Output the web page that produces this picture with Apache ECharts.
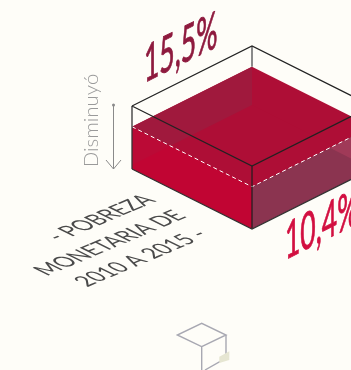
<!DOCTYPE html>
<html>
<head>
<meta charset="utf-8">
<style>
html,body{margin:0;padding:0;background:#fefdf8;}
#chart{width:351px;height:370px;}
</style>
<script src="https://cdn.jsdelivr.net/npm/echarts@6/dist/echarts.min.js"></script>
</head>
<body>
<div id="chart"></div>
<script>
// Poverty rate at the start and end of the period
const rateStart = 15.5;
const rateEnd = 10.4;
const years = [2010, 2015];
const trendWord = 'Disminuyó';
const captionLines = ['- POBREZA', 'MONETARIA DE', years[0] + ' A ' + years[1] + ' -'];

const asLabel = function (v) { return String(v).replace('.', ',') + '%'; };

const chart = echarts.init(document.getElementById('chart'));
const ISO = Math.atan(0.5);
const HALF_DEPTH = 60;
const FLOOR = 1;

function renderBox(params, api) {
  const top = api.value(0);
  const level = api.value(1);
  // u runs from the left corner to the back, v from the left corner to the front
  const pt = function (u, v, h) {
    const c = api.coord([u + v, h]);
    return [c[0], c[1] + (v - u) * HALF_DEPTH];
  };
  const poly = function (points, fill) {
    return { type: 'polygon', shape: { points: points }, style: { fill: fill }, silent: true };
  };
  const line = function (points, stroke, width, dash) {
    return {
      type: 'polyline', shape: { points: points }, silent: true,
      style: { fill: 'none', stroke: stroke, lineWidth: width, lineDash: dash || null }
    };
  };
  const wall = function (a, b, h0, h1, fill) {
    return poly([pt(a[0], a[1], h0), pt(b[0], b[1], h0), pt(b[0], b[1], h1), pt(a[0], a[1], h1)], fill);
  };
  const L = [0, 0], B = [1, 0], F = [0, 1], R = [1, 1];
  const levelPx = api.size([0, level])[1];
  const t = 1 - levelPx / (2 * HALF_DEPTH);

  const children = [
    wall(L, B, 0, level, '#ae0e36'),
    wall(L, F, 0, level, '#ae0e36'),
    wall(B, R, 0, level, '#ae0e36'),
    poly([pt(0, 0, FLOOR), pt(1, 0, FLOOR), pt(1, 1, FLOOR), pt(0, 1, FLOOR)], '#ae0e36'),
    wall(L, B, FLOOR, level, '#a0193d'),
    wall(L, F, 0, level, 'rgba(205,0,50,0.6)'),
    wall(F, R, 0, level, '#8b3450'),
    poly([pt(t, 1, level), pt(1, 1, level), pt(1, 1, 0)], '#a03a58'),
    line([pt(0, 0, level), pt(0, 1, level), pt(1, 1, level)], '#ffffff', 1, [4, 3]),
    line([pt(1, 0, top), pt(1, 0, level)], '#8a8a8a', 2),
    line([pt(0, 0, 0), pt(0, 0, top)], '#333333', 1.3),
    line([pt(0, 1, 0), pt(0, 1, top)], '#1e1e1e', 1.2),
    line([pt(0, 0, 0), pt(0, 1, 0), pt(1, 1, 0)], '#333333', 1.2),
    line([pt(0, 0, top), pt(1, 0, top), pt(1, 1, top), pt(0, 1, top), pt(0, 0, top)], '#222222', 1.2)
  ];
  return { type: 'group', children: children };
}

// Numbers stand upright on a rising baseline, the caption lies flat on the floor plane
const bigLabel = function (text, x, y, fill) {
  return {
    type: 'text', x: x, y: y, scaleX: 0.53, scaleY: 1.02, skewY: ISO, silent: true,
    style: { text: text, fill: fill, stroke: fill, lineWidth: 0.9, font: '400 50px Lato', align: 'left', verticalAlign: 'bottom' }
  };
};
const captionLine = function (text, x, y) {
  return {
    type: 'text', x: x, y: y, scaleX: 0.86, scaleY: 0.5, skewY: Math.atan(0.42), skewX: Math.atan(2), silent: true,
    style: { text: text, fill: '#4a4a4a', font: '400 22px Lato', align: 'center', verticalAlign: 'middle' }
  };
};

const option = {
  animation: false,
  backgroundColor: '#fefdf8',
  grid: { left: 132, top: 106, width: 219, height: 63 },
  xAxis: { type: 'value', min: 0, max: 1.825, show: false },
  yAxis: { type: 'value', min: 0, max: rateStart, show: false },
  series: [{
    type: 'custom',
    coordinateSystem: 'cartesian2d',
    clip: false,
    silent: true,
    data: [[rateStart, rateEnd]],
    renderItem: renderBox
  }],
  graphic: { elements: [
    bigLabel(asLabel(rateStart), 144, 92, '#8e1a3e'),
    bigLabel(asLabel(rateEnd), 285, 269, '#d20f40'),
    captionLine(captionLines[0], 101, 218),
    captionLine(captionLines[1], 110, 243),
    captionLine(captionLines[2], 141, 258),
    { type: 'text', x: 91, y: 120.5, rotation: Math.PI / 2, silent: true,
      style: { text: trendWord, fill: '#9a9a9a', font: '300 20.5px Lato', align: 'center', verticalAlign: 'middle' } },
    { type: 'polyline', silent: true, shape: { points: [[113.5, 105], [113.5, 169]] }, style: { fill: 'none', stroke: '#8a8a8a', lineWidth: 1 } },
    { type: 'polyline', silent: true, shape: { points: [[106, 160], [113.5, 169], [121, 160]] }, style: { fill: 'none', stroke: '#8a8a8a', lineWidth: 1 } },
    { type: 'circle', silent: true, shape: { cx: 113.5, cy: 105, r: 1.5 }, style: { fill: '#8a8a8a' } },
    { type: 'polyline', silent: true, shape: { points: [[201.7, 370], [201.7, 346.7], [177.3, 335], [201.7, 323.3], [226, 335], [201.7, 346.7]] }, style: { fill: 'none', stroke: '#a8a8b2', lineWidth: 1.4 } },
    { type: 'polyline', silent: true, shape: { points: [[226, 335], [226, 358], [205, 370]] }, style: { fill: 'none', stroke: '#a8a8b2', lineWidth: 1.4 } },
    { type: 'polygon', silent: true, shape: { points: [[219.3, 356.7], [229.3, 351.3], [229.3, 360], [219.3, 363]] }, style: { fill: '#e6e6d2' } }
  ] }
};
chart.setOption(option);
</script>
</body>
</html>
